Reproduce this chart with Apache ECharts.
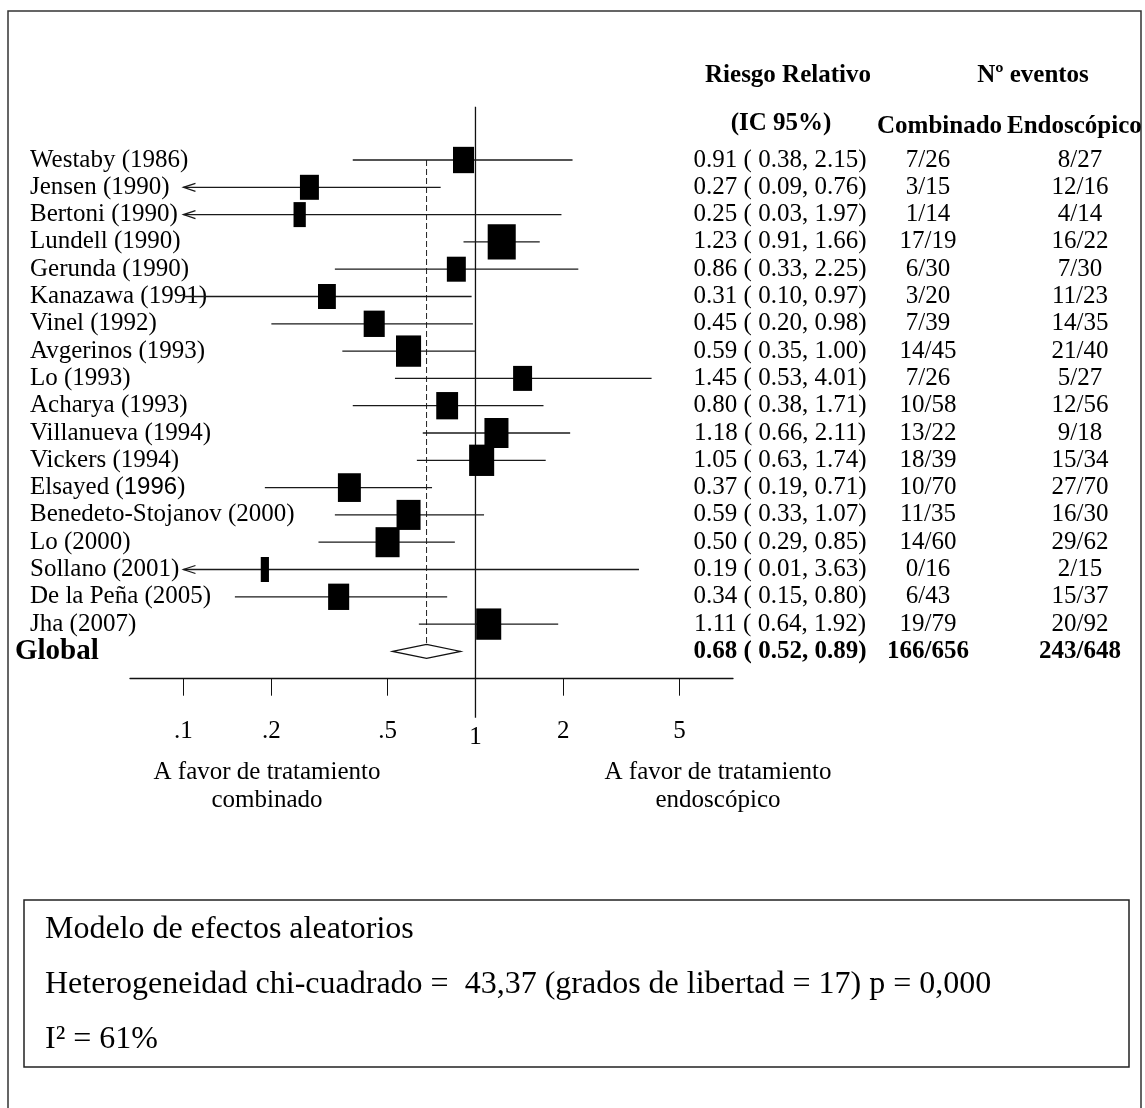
<!DOCTYPE html>
<html>
<head>
<meta charset="utf-8">
<script src="https://cdn.jsdelivr.net/npm/echarts@6/dist/echarts.min.js"></script>
<style>
  html, body { margin: 0; padding: 0; background: #fff; }
  #chart { width: 1145px; height: 1108px; }
</style>
</head>
<body>
<div id="chart"></div>
<script>
// ---- Studies: relative risk (combined vs endoscopic treatment), 95% CI, events ----
const STUDIES = [
  'Westaby (1986)', 'Jensen (1990)', 'Bertoni (1990)', 'Lundell (1990)', 'Gerunda (1990)',
  'Kanazawa (1991)', 'Vinel (1992)', 'Avgerinos (1993)', 'Lo (1993)', 'Acharya (1993)',
  'Villanueva (1994)', 'Vickers (1994)', 'Elsayed (1996)', 'Benedeto-Stojanov (2000)', 'Lo (2000)',
  'Sollano (2001)', 'De la Peña (2005)', 'Jha (2007)'
];
const RR      = [0.91, 0.27, 0.25, 1.23, 0.86, 0.31, 0.45, 0.59, 1.45, 0.80, 1.18, 1.05, 0.37, 0.59, 0.50, 0.19, 0.34, 1.11];
const CI_LOW  = [0.38, 0.09, 0.03, 0.91, 0.33, 0.10, 0.20, 0.35, 0.53, 0.38, 0.66, 0.63, 0.19, 0.33, 0.29, 0.01, 0.15, 0.64];
const CI_HIGH = [2.15, 0.76, 1.97, 1.66, 2.25, 0.97, 0.98, 1.00, 4.01, 1.71, 2.11, 1.74, 0.71, 1.07, 0.85, 3.63, 0.80, 1.92];
// Study weights (%) in the random-effects pooling
const WEIGHTS = [5.3, 4.3, 1.8, 9.4, 4.3, 3.8, 5.3, 7.5, 4.3, 5.7, 6.9, 7.5, 6.3, 6.9, 6.9, 0.8, 5.3, 7.5];
const COMB_EVENTS = [7, 3, 1, 17, 6, 3, 7, 14, 7, 10, 13, 18, 10, 11, 14, 0, 6, 19];
const COMB_TOTAL  = [26, 15, 14, 19, 30, 20, 39, 45, 26, 58, 22, 39, 70, 35, 60, 16, 43, 79];
const ENDO_EVENTS = [8, 12, 4, 16, 7, 11, 14, 21, 5, 12, 9, 15, 27, 16, 29, 2, 15, 20];
const ENDO_TOTAL  = [27, 16, 14, 22, 30, 23, 35, 40, 27, 56, 18, 34, 70, 30, 62, 15, 37, 92];

// ---- Pooled estimate ----
const GLOBAL_LABEL = 'Global';
const GLOBAL_RR = 0.68;
const GLOBAL_LOW = 0.52;
const GLOBAL_HIGH = 0.89;
const GLOBAL_COMB = [166, 656];
const GLOBAL_ENDO = [243, 648];

// ---- Axis ----
const TICK_VALUES = [0.1, 0.2, 0.5, 1, 2, 5];
const TICK_LABELS = ['.1', '.2', '.5', '1', '2', '5'];
const X_MIN = 0.0656;
const X_MAX = 7.62;
const CI_FLOOR = 0.1;        // intervals below this are cut and drawn with an arrow

const SANS_YEAR_LABELS = ['Elsayed (1996)'];

const SERIF = '"Liberation Serif", "Times New Roman", serif';
const INK = '#111';

// Row layout: a blank row above and below, studies, then the pooled row
const ROW_LABELS = ['', ...STUDIES, GLOBAL_LABEL, ''];
const GLOBAL_ROW = STUDIES.length + 1;
const fmt2 = v => v.toFixed(2);
const RR_TEXT = ['', ...STUDIES.map((_, i) => `${fmt2(RR[i])} ( ${fmt2(CI_LOW[i])}, ${fmt2(CI_HIGH[i])})`),
  `${fmt2(GLOBAL_RR)} ( ${fmt2(GLOBAL_LOW)}, ${fmt2(GLOBAL_HIGH)})`, ''];
const COMB_TEXT = ['', ...COMB_EVENTS.map((e, i) => `${e}/${COMB_TOTAL[i]}`), `${GLOBAL_COMB[0]}/${GLOBAL_COMB[1]}`, ''];
const ENDO_TEXT = ['', ...ENDO_EVENTS.map((e, i) => `${e}/${ENDO_TOTAL[i]}`), `${GLOBAL_ENDO[0]}/${GLOBAL_ENDO[1]}`, ''];

const chart = echarts.init(document.getElementById('chart'), null, { renderer: 'canvas' });

const textRich = {
  sp: { width: 15 },
  n: { fontFamily: SERIF, fontSize: 25, color: '#000' },
  s: { fontFamily: '"Liberation Sans", Arial, sans-serif', fontSize: 24, color: '#000' },
  g: { fontFamily: SERIF, fontSize: 29, fontWeight: 'bold', color: '#000' },
  b: { fontFamily: SERIF, fontSize: 25, fontWeight: 'bold', color: '#000' }
};

function columnAxis(data, margin) {
  return {
    type: 'category', data, inverse: true, boundaryGap: false, position: 'right',
    axisLine: { show: false }, axisTick: { show: false }, splitLine: { show: false },
    axisLabel: {
      interval: 0, margin, align: 'center', rich: textRich,
      formatter: (v, i) => v === '' ? '' : (i === GLOBAL_ROW ? `{b|${v}}` : `{n|${v}}`)
    }
  };
}

const studyLabelAxis = {
  type: 'category', data: ROW_LABELS, inverse: true, boundaryGap: false, position: 'left',
  axisLine: { show: false }, axisTick: { show: false }, splitLine: { show: false },
  axisLabel: {
    interval: 0, margin: 115, align: 'left', rich: textRich,
    formatter: (v, i) => {
      if (v === '') return '';
      if (i === GLOBAL_ROW) return `{g|${v}}`;
      if (SANS_YEAR_LABELS.includes(v)) {
        const m = v.match(/^(.*\()(\d{4})(\))$/);
        return `{sp| }{n|${m[1]}}{s|${m[2]}}{n|${m[3]}}`;
      }
      return `{sp| }{n|${v}}`;
    }
  }
};

const squareData = STUDIES.map((_, i) => {
  const w = 9.15 * Math.sqrt(WEIGHTS[i]);
  return { value: [RR[i], i + 1], symbolSize: [w, Math.max(25, 1.25 * w)] };
});

const ciData = STUDIES.map((_, i) => [CI_LOW[i], CI_HIGH[i], i + 1]);

const option = {
  animation: false,
  backgroundColor: '#fff',
  grid: { left: 130, right: 412, top: 132.7, bottom: 429.3, containLabel: false, outerBoundsMode: 'none' },
  xAxis: {
    type: 'log', logBase: 10, min: X_MIN, max: X_MAX,
    axisLine: { show: true, lineStyle: { color: INK, width: 1.3 } },
    axisTick: { show: true, customValues: TICK_VALUES, length: 17, inside: false, lineStyle: { color: INK, width: 1 } },
    minorTick: { show: false },
    splitLine: { show: false },
    axisLabel: {
      customValues: TICK_VALUES, margin: 40, showMinLabel: true, showMaxLabel: true,
      rich: {
        t: { fontFamily: SERIF, fontSize: 25, color: '#000' },
        one: { fontFamily: SERIF, fontSize: 25, color: '#000', padding: [6, 0, 0, 0] }
      },
      formatter: v => {
        let k = 0, best = Infinity;
        TICK_VALUES.forEach((t, j) => { const d = Math.abs(Math.log10(t) - Math.log10(v)); if (d < best) { best = d; k = j; } });
        return TICK_VALUES[k] === 1 ? `{one|${TICK_LABELS[k]}}` : `{t|${TICK_LABELS[k]}}`;
      }
    }
  },
  yAxis: [
    studyLabelAxis,
    columnAxis(RR_TEXT, 47),
    columnAxis(COMB_TEXT, 195),
    columnAxis(ENDO_TEXT, 347)
  ],
  series: [
    {
      // vertical lines: no effect (RR = 1) and pooled estimate
      type: 'custom', silent: true, clip: false, z: 1,
      encode: { x: 0, y: [1, 2] },
      data: [[1, 0, ROW_LABELS.length - 1, 0], [GLOBAL_RR, 1, GLOBAL_ROW, 1]],
      renderItem: (params, api) => {
        const dashed = api.value(3) === 1;
        const top = api.coord([api.value(0), api.value(1)]);
        const bottom = api.coord([api.value(0), api.value(2)]);
        const y1 = dashed ? top[1] : top[1] - 26;
        const y2 = dashed ? bottom[1] - 7 : bottom[1] + 39;
        return {
          type: 'line',
          shape: { x1: top[0], y1, x2: bottom[0], y2 },
          style: dashed ? { stroke: '#222', lineWidth: 1, lineDash: [6, 3] } : { stroke: INK, lineWidth: 1.3 }
        };
      }
    },
    {
      // confidence intervals
      type: 'custom', silent: true, clip: false, z: 2,
      encode: { x: [0, 1], y: 2 },
      data: ciData,
      renderItem: (params, api) => {
        const lo = api.value(0), hi = api.value(1), row = api.value(2);
        const a = api.coord([Math.max(lo, CI_FLOOR), row]);
        const b = api.coord([hi, row]);
        const children = [{
          type: 'line', shape: { x1: a[0], y1: a[1], x2: b[0], y2: b[1] },
          style: { stroke: '#1a1a1a', lineWidth: 1.3 }
        }];
        if (lo < CI_FLOOR) {
          children.push({
            type: 'polyline',
            shape: { points: [[a[0] + 12, a[1] - 4], [a[0], a[1]], [a[0] + 12, a[1] + 4]] },
            style: { stroke: '#1a1a1a', lineWidth: 1.3, fill: null }
          });
        }
        return { type: 'group', children };
      }
    },
    {
      // study estimates, sized by weight
      type: 'scatter', silent: true, z: 3,
      symbol: 'rect',
      itemStyle: { color: '#000', opacity: 1 },
      data: squareData
    },
    {
      // pooled estimate diamond
      type: 'custom', silent: true, clip: false, z: 4,
      encode: { x: [0, 1, 2], y: 3 },
      data: [[GLOBAL_LOW, GLOBAL_RR, GLOBAL_HIGH, GLOBAL_ROW]],
      renderItem: (params, api) => {
        const row = api.value(3);
        const l = api.coord([api.value(0), row]);
        const c = api.coord([api.value(1), row]);
        const r = api.coord([api.value(2), row]);
        return {
          type: 'polygon',
          shape: { points: [[l[0], l[1]], [c[0], c[1] - 7], [r[0], r[1]], [c[0], c[1] + 7]] },
          style: { fill: '#fff', stroke: INK, lineWidth: 1.2 }
        };
      }
    }
  ],
  graphic: [
    { type: 'rect', shape: { x: 8, y: 11, width: 1133, height: 1120 }, style: { fill: null, stroke: '#333', lineWidth: 1.5 }, silent: true },
    { type: 'text', style: { text: 'Riesgo Relativo', x: 788, y: 76, align: 'center', textAlign: 'center', verticalAlign: 'middle', textVerticalAlign: 'middle', font: 'bold 25px ' + SERIF, fill: '#000' } },
    { type: 'text', style: { text: '(IC 95%)', x: 781, y: 124, align: 'center', textAlign: 'center', verticalAlign: 'middle', textVerticalAlign: 'middle', font: 'bold 25px ' + SERIF, fill: '#000' } },
    { type: 'text', style: { text: 'Nº eventos', x: 1033, y: 76, align: 'center', textAlign: 'center', verticalAlign: 'middle', textVerticalAlign: 'middle', font: 'bold 25px ' + SERIF, fill: '#000' } },
    { type: 'text', style: { text: 'Combinado', x: 877, y: 127, align: 'left', textAlign: 'left', verticalAlign: 'middle', textVerticalAlign: 'middle', font: 'bold 25px ' + SERIF, fill: '#000' } },
    { type: 'text', style: { text: 'Endoscópico', x: 1007, y: 127, align: 'left', textAlign: 'left', verticalAlign: 'middle', textVerticalAlign: 'middle', font: 'bold 25px ' + SERIF, fill: '#000' } },
    { type: 'text', style: { text: 'A favor de tratamiento\ncombinado', x: 267, y: 758, align: 'center', textAlign: 'center', verticalAlign: 'top', textVerticalAlign: 'top', lineHeight: 28, font: '25px ' + SERIF, fill: '#000' } },
    { type: 'text', style: { text: 'A favor de tratamiento\nendoscópico', x: 718, y: 758, align: 'center', textAlign: 'center', verticalAlign: 'top', textVerticalAlign: 'top', lineHeight: 28, font: '25px ' + SERIF, fill: '#000' } },
    { type: 'rect', shape: { x: 24, y: 900, width: 1105, height: 167 }, style: { fill: null, stroke: '#222', lineWidth: 1.5 }, silent: true },
    { type: 'text', style: { text: 'Modelo de efectos aleatorios', x: 45, y: 930, align: 'left', textAlign: 'left', verticalAlign: 'middle', textVerticalAlign: 'middle', font: '32px ' + SERIF, fill: '#000' } },
    { type: 'text', style: { text: 'Heterogeneidad chi-cuadrado =  43,37 (grados de libertad = 17) p = 0,000', x: 45, y: 985, align: 'left', textAlign: 'left', verticalAlign: 'middle', textVerticalAlign: 'middle', font: '32px ' + SERIF, fill: '#000' } },
    { type: 'text', style: { text: 'I² = 61%', x: 45, y: 1040, align: 'left', textAlign: 'left', verticalAlign: 'middle', textVerticalAlign: 'middle', font: '32px ' + SERIF, fill: '#000' } }
  ]
};

chart.setOption(option);
</script>
</body>
</html>
